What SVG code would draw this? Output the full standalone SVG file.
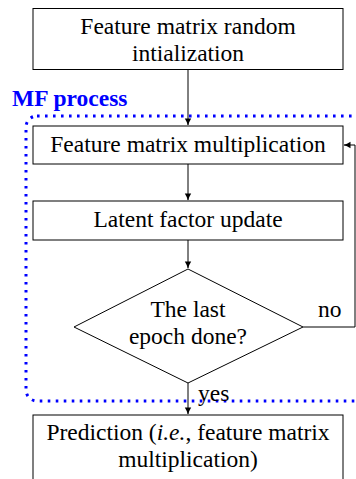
<svg xmlns="http://www.w3.org/2000/svg" width="356" height="479" viewBox="0 0 356 479">
<defs>
<style>
.box{fill:#fff;stroke:#000;stroke-width:1}
.t{font-family:"Liberation Serif","Times New Roman",serif;font-size:23.5px;fill:#000;text-anchor:middle}
.l{font-family:"Liberation Serif","Times New Roman",serif;font-size:23.5px;fill:#000}
.c{fill:none;stroke:#000;stroke-width:1}
</style>
<marker id="ah" markerWidth="8" markerHeight="8" refX="7" refY="4" orient="auto" markerUnits="userSpaceOnUse">
<path d="M0.5,0.8 Q4,3 7.5,4 Q4,5 0.5,7.2 L0.5,0.8z" fill="#000"/>
</marker>
</defs>
<rect width="356" height="479" fill="#fff"/>
<g id="mf-process">
<rect x="26" y="116" width="340" height="285" rx="11" fill="none" stroke="#0000ff" stroke-width="3" stroke-dasharray="2.6 5.4"/>
<text x="12" y="106" font-family="'Liberation Serif','Times New Roman',serif" font-size="23.5" font-weight="bold" fill="#0000ff">MF process</text>
</g>
<g id="connectors">
<line class="c" x1="188" y1="70" x2="188" y2="125" marker-end="url(#ah)"/>
<line class="c" x1="188" y1="164" x2="188" y2="200" marker-end="url(#ah)"/>
<line class="c" x1="188" y1="240" x2="188" y2="268" marker-end="url(#ah)"/>
<polyline class="c" points="303,327 355,327 355,145 344,145" marker-end="url(#ah)"/>
<line class="c" x1="188" y1="383" x2="188" y2="414" marker-end="url(#ah)"/>
<text class="l" x="318" y="317">no</text>
<text class="l" x="198" y="401">yes</text>
</g>
<g id="init">
<rect class="box" x="33" y="8.5" width="310" height="61"/>
<text class="t" x="188" y="34">Feature matrix random</text>
<text class="t" x="188" y="61">intialization</text>
</g>
<g id="multiply">
<rect class="box" x="33" y="126" width="310" height="38"/>
<text class="t" x="188" y="152">Feature matrix multiplication</text>
</g>
<g id="update">
<rect class="box" x="33" y="201" width="310" height="39"/>
<text class="t" x="188" y="227">Latent factor update</text>
</g>
<g id="decision">
<polygon class="box" points="188,269 303,327 188,383 74,327"/>
<text class="t" x="188" y="317">The last</text>
<text class="t" x="188" y="344">epoch done?</text>
</g>
<g id="prediction">
<rect class="box" x="33" y="415" width="310" height="70"/>
<text class="t" x="188" y="440">Prediction (<tspan font-style="italic">i.e.</tspan>, feature matrix</text>
<text class="t" x="188" y="467">multiplication)</text>
</g>
</svg>
